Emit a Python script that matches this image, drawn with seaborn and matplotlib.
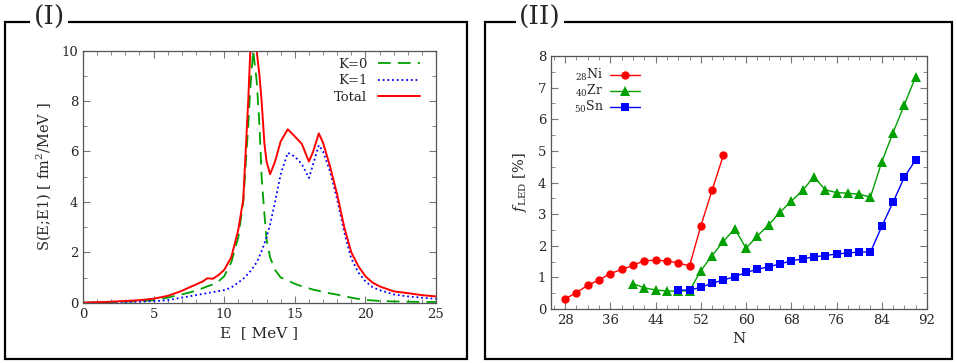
import numpy as np
import pandas as pd
import matplotlib
matplotlib.use("Agg")
import matplotlib.pyplot as plt
import seaborn as sns
from matplotlib.patches import Rectangle
from matplotlib.ticker import MultipleLocator

# Panel (I): strength functions
energy = [0, 1, 2, 3, 4, 5, 6, 6.5, 7, 7.5, 8, 8.5, 8.8, 9.2, 9.6, 10, 10.5, 11,
          11.35, 11.7, 11.85, 12.05, 12.3, 12.5, 12.65, 12.85, 13.0, 13.25, 13.6,
          14.0, 14.5, 15.0, 15.5, 16.0, 16.3, 16.7, 17.0, 17.5, 18.0, 18.5, 19.0,
          19.5, 20.0, 20.5, 21, 22, 23, 24, 25]
s_total = [0, 0.02, 0.04, 0.07, 0.1, 0.16, 0.27, 0.37, 0.47, 0.6, 0.72, 0.85, 0.97,
           0.95, 1.1, 1.3, 1.8, 2.9, 4.1, 8.0, 10.0, 11.0, 10.0, 9.0, 8.0, 6.3, 5.6,
           5.1, 5.6, 6.4, 6.88, 6.6, 6.3, 5.6, 6.0, 6.72, 6.35, 5.4, 4.3, 3.0, 2.0,
           1.45, 1.05, 0.8, 0.65, 0.45, 0.38, 0.3, 0.25]
s_k0 = [0, 0.01, 0.02, 0.04, 0.06, 0.1, 0.2, 0.27, 0.33, 0.4, 0.48, 0.58, 0.65,
        0.72, 0.85, 1.05, 1.6, 2.6, 4.0, 7.0, 8.5, 10.0, 8.8, 7.0, 5.0, 3.5, 2.5,
        1.8, 1.3, 1.0, 0.88, 0.75, 0.65, 0.57, 0.52, 0.47, 0.43, 0.37, 0.32, 0.26,
        0.2, 0.15, 0.11, 0.09, 0.07, 0.05, 0.04, 0.03, 0.03]
s_k1 = [0, 0.01, 0.02, 0.03, 0.04, 0.06, 0.1, 0.15, 0.2, 0.25, 0.3, 0.35, 0.38,
        0.42, 0.46, 0.5, 0.6, 0.8, 0.95, 1.15, 1.25, 1.4, 1.6, 1.85, 2.05, 2.35,
        2.6, 3.1, 4.0, 5.1, 5.95, 5.8, 5.5, 4.95, 5.5, 6.25, 6.0, 5.2, 4.1, 2.8,
        1.75, 1.2, 0.85, 0.62, 0.5, 0.33, 0.25, 0.2, 0.15]

# Panel (II): f_LED vs neutron number
n_ni = list(range(28, 57, 2))
f_ni = [0.32, 0.52, 0.75, 0.92, 1.12, 1.25, 1.38, 1.53, 1.54, 1.52, 1.46, 1.36,
        2.63, 3.76, 4.87]
n_zr = list(range(40, 91, 2))
f_zr = [0.80, 0.67, 0.60, 0.57, 0.56, 0.58, 1.21, 1.69, 2.14, 2.54, 1.92, 2.31,
        2.66, 3.06, 3.41, 3.75, 4.18, 3.77, 3.68, 3.66, 3.63, 3.54, 4.65, 5.58,
        6.46, 7.35]
n_sn = list(range(48, 91, 2))
f_sn = [0.61, 0.59, 0.69, 0.81, 0.92, 1.02, 1.16, 1.25, 1.34, 1.42, 1.53, 1.58,
        1.65, 1.69, 1.74, 1.77, 1.80, 1.80, 2.61, 3.38, 4.17, 4.72]

sns.set_style("ticks")
plt.rcParams["font.family"] = ["DejaVu Serif"]
plt.rcParams["mathtext.fontset"] = "dejavuserif"

W, H = 957, 363
fig = plt.figure(figsize=(W / 100, H / 100), dpi=100)


def fx(px):
    return px / W


def fy(py):
    return 1 - py / H


# panel frames with titles breaking the top line
for x0, x1, title, tx in [(5, 467, "(I)", 49), (485, 952, "(II)", 540)]:
    fig.patches.append(Rectangle((fx(x0), fy(359)), fx(x1 - x0), (359 - 22) / H,
                                 transform=fig.transFigure, fill=False,
                                 edgecolor="black", linewidth=1.6, zorder=0))
    fig.text(fx(tx), fy(17), title, fontsize=19, ha="center", va="center",
             bbox=dict(facecolor="white", edgecolor="none", pad=2))

grey = "#777777"

# ---- panel (I)
ax1 = fig.add_axes([fx(83), fy(302.7), fx(353), 252 / H])
df1 = pd.DataFrame({"E": energy, "K=0": s_k0, "K=1": s_k1, "Total": s_total})
sns.lineplot(data=df1, x="E", y="K=0", ax=ax1, color="#00a000", lw=1.3,
             label="K=0")
sns.lineplot(data=df1, x="E", y="K=1", ax=ax1, color="#0000ff", lw=1.3,
             label="K=1")
sns.lineplot(data=df1, x="E", y="Total", ax=ax1, color="#ff0000", lw=1.4,
             label="Total")
ax1.lines[0].set_dashes([7, 4])
ax1.lines[1].set_dashes([1, 1.6])
ax1.set_xlim(0, 25)
ax1.set_ylim(0, 10)
ax1.xaxis.set_major_locator(MultipleLocator(5))
ax1.xaxis.set_minor_locator(MultipleLocator(1))
ax1.yaxis.set_major_locator(MultipleLocator(2))
ax1.yaxis.set_minor_locator(MultipleLocator(1))
ax1.set_xlabel("E  [ MeV ]", fontsize=11)
ax1.set_ylabel("S(E;E1) [ fm$^2$/MeV ]", fontsize=10.5, labelpad=6)
ax1.legend(loc="upper right", frameon=False, markerfirst=False,
           fontsize=9.5, handlelength=3.2, labelspacing=0.25,
           borderaxespad=0.15, bbox_to_anchor=(0.975, 1.0))

# ---- panel (II)
ax2 = fig.add_axes([fx(551), fy(309), fx(376), 253 / H])
df_ni = pd.DataFrame({"N": n_ni, "f": f_ni})
df_zr = pd.DataFrame({"N": n_zr, "f": f_zr})
df_sn = pd.DataFrame({"N": n_sn, "f": f_sn})
sns.lineplot(data=df_ni, x="N", y="f", ax=ax2, color="#ff0000", lw=1.0,
             marker="o", markersize=6, markeredgewidth=0, label=r"$_{28}$Ni")
sns.lineplot(data=df_zr, x="N", y="f", ax=ax2, color="#00a000", lw=1.0,
             marker="^", markersize=6.5, markeredgewidth=0, label=r"$_{40}$Zr")
sns.lineplot(data=df_sn, x="N", y="f", ax=ax2, color="#0000ff", lw=1.0,
             marker="s", markersize=5.5, markeredgewidth=0, label=r"$_{50}$Sn")
ax2.set_xlim(25.5, 92)
ax2.set_ylim(0, 8)
ax2.xaxis.set_major_locator(MultipleLocator(8, offset=4))
ax2.xaxis.set_minor_locator(MultipleLocator(2))
ax2.yaxis.set_major_locator(MultipleLocator(1))
ax2.yaxis.set_minor_locator(MultipleLocator(0.5))
ax2.set_xlabel("N", fontsize=11)
ax2.set_ylabel(r"$f_{\rm LED}$ [%]", fontsize=10.5, labelpad=6)
ax2.legend(loc="upper left", frameon=False, markerfirst=False, fontsize=9,
           handlelength=2.4, labelspacing=-0.02, borderaxespad=0, borderpad=0,
           handletextpad=0.5, bbox_to_anchor=(0.06, 0.955))

for ax in (ax1, ax2):
    ax.tick_params(which="both", direction="in", top=True, right=True,
                   color=grey, labelsize=9.5)
    ax.tick_params(which="major", length=5)
    ax.tick_params(which="minor", length=3)
    for sp in ax.spines.values():
        sp.set_color("#555555")
        sp.set_linewidth(0.9)

fig.savefig("out.png", dpi=100)
